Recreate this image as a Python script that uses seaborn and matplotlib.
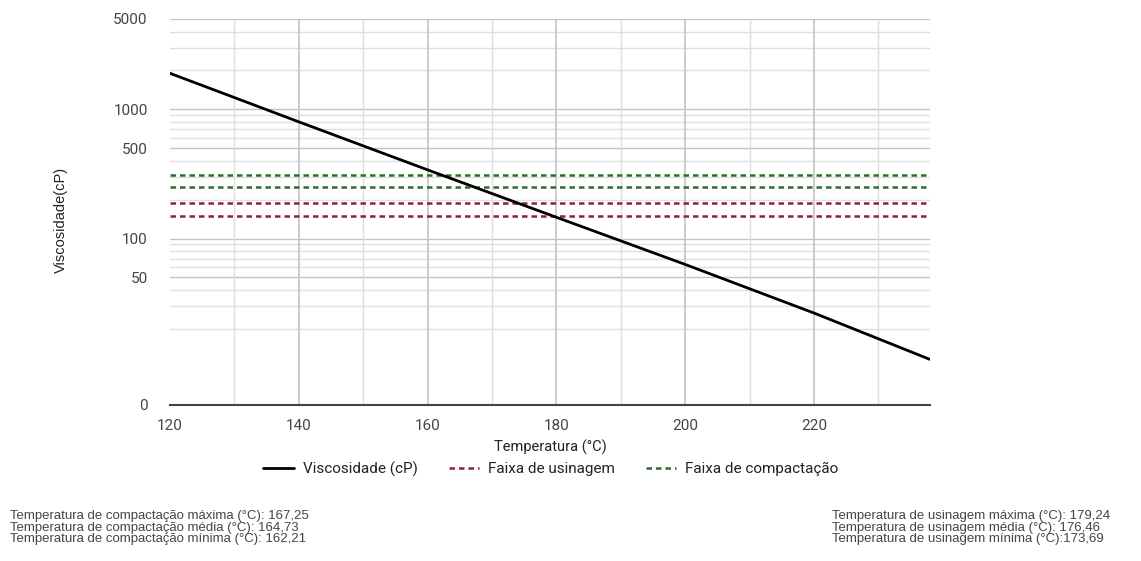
import matplotlib
matplotlib.use("Agg")
import matplotlib.pyplot as plt
import seaborn as sns
import pandas as pd
from matplotlib.lines import Line2D

# dados
temperatura = [120, 140, 160, 180, 200, 220, 238]
viscosidade = [1900, 800, 340, 146, 63, 26.5, 11.6]
faixa_usinagem = [150, 190]
faixa_compactacao = [250, 310]

y_ticks = [5.15, 50, 100, 500, 1000, 5000]
y_tick_labels = ["0", "50", "100", "500", "1000", "5000"]
y_minor = [20, 30, 40, 60, 70, 80, 90, 200, 300, 400, 600, 700, 800, 900, 2000, 3000, 4000]
x_ticks = [120, 140, 160, 180, 200, 220]
x_minor = [130, 150, 170, 190, 210, 230]

texto_compactacao = [
    "Temperatura de compactação máxima (°C): 167,25",
    "Temperatura de compactação média (°C): 164,73",
    "Temperatura de compactação mínima (°C): 162,21",
]
texto_usinagem = [
    "Temperatura de usinagem máxima (°C): 179,24",
    "Temperatura de usinagem média (°C): 176,46",
    "Temperatura de usinagem mínima (°C):173,69",
]

sns.set_style("white")
plt.rcParams["font.family"] = ["Roboto", "DejaVu Sans"]

df = pd.DataFrame({"Temperatura": temperatura, "Viscosidade": viscosidade})

fig = plt.figure(figsize=(11.41, 5.61), dpi=100)
ax = fig.add_axes([170 / 1141, 1 - 405 / 561, 760 / 1141, 386 / 561])

ax.set_yscale("log")
ax.set_xlim(120, 238)
ax.set_ylim(5.15, 5000)

# grade
for v in y_minor:
    ax.axhline(v, color="#e0e0e0", lw=1, zorder=0)
for v in y_ticks[1:]:
    ax.axhline(v, color="#c4c4c4", lw=1, zorder=0)
for v in x_minor:
    ax.axvline(v, color="#dedede", lw=1, zorder=0)
for v in x_ticks[1:]:
    ax.axvline(v, color="#c4c4c4", lw=1.2, zorder=0)

for v in faixa_compactacao:
    ax.axhline(v, color="#2a6e2a", lw=1.8, ls=(0, (2.2, 1.6)), zorder=2)
for v in faixa_usinagem:
    ax.axhline(v, color="#8c2330", lw=1.8, ls=(0, (2.2, 1.6)), zorder=2)

sns.lineplot(data=df, x="Temperatura", y="Viscosidade", color="black", lw=2, ax=ax, zorder=3)

for s in ["top", "right", "left"]:
    ax.spines[s].set_visible(False)
ax.spines["bottom"].set_color("#444444")
ax.spines["bottom"].set_linewidth(1.5)

ax.set_yticks(y_ticks)
ax.set_yticklabels(y_tick_labels)
ax.yaxis.set_minor_locator(matplotlib.ticker.NullLocator())
ax.set_xticks(x_ticks)
ax.tick_params(axis="both", length=0, labelsize=11, labelcolor="#444444")
ax.tick_params(axis="y", pad=16)
ax.tick_params(axis="x", pad=10)

ax.set_xlabel("Temperatura (°C)", fontsize=10.5, color="#222222")
ax.xaxis.set_label_coords(0.5, -0.09)
ax.set_ylabel("Viscosidade(cP)", fontsize=10.5, color="#222222", family=["Liberation Sans"])
ax.yaxis.set_label_coords(-0.134, 0.48)

handles = [
    Line2D([], [], color="black", lw=2),
    Line2D([], [], color="#8c2330", lw=1.8, ls=(0, (2.2, 1.6))),
    Line2D([], [], color="#2a6e2a", lw=1.8, ls=(0, (2.2, 1.6))),
]
labels = ["Viscosidade (cP)", "Faixa de usinagem", "Faixa de compactação"]
fig.legend(handles, labels, loc="center", bbox_to_anchor=(551 / 1141, 1 - 469 / 561),
           ncol=3, frameon=False, fontsize=11, handlelength=2.0, columnspacing=2.0,
           handletextpad=0.6, labelcolor="#222222")

# anotacoes abaixo do grafico
for i, t in enumerate(texto_compactacao):
    fig.text(10 / 1141, 1 - (516 + i * 11.5) / 561, t, fontsize=9.5, color="#444444",
             family=["Liberation Sans"], va="center", ha="left")
for i, t in enumerate(texto_usinagem):
    fig.text(832 / 1141, 1 - (516 + i * 11.5) / 561, t, fontsize=9.5, color="#444444",
             family=["Liberation Sans"], va="center", ha="left")

fig.savefig("out.png", dpi=100)
